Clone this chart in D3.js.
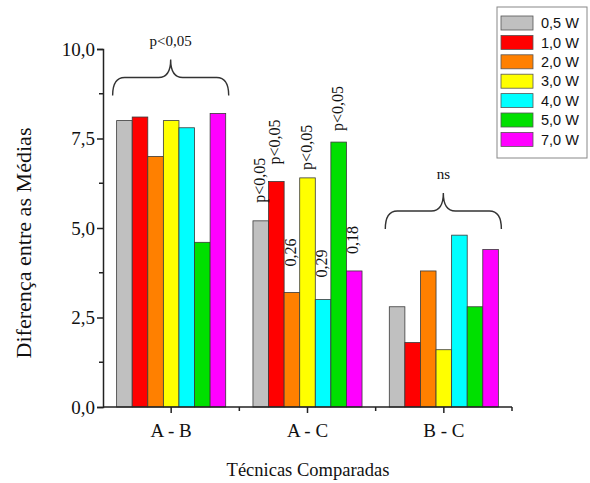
<!DOCTYPE html>
<html><head><meta charset="utf-8">
<script src="https://cdn.jsdelivr.net/npm/d3@7"></script>
<style>
body{margin:0;background:#fff}
text{font-family:"Liberation Serif","Times New Roman",serif;fill:#111}
</style></head>
<body><svg id="c" width="590" height="483"></svg>
<script>
const categories = ["A - B", "A - C", "B - C"];
const seriesNames = ["0,5 W", "1,0 W", "2,0 W", "3,0 W", "4,0 W", "5,0 W", "7,0 W"];
const seriesColors = ["#c0c0c0", "#ff0000", "#ff8000", "#ffff00", "#00ffff", "#00e000", "#ff00ff"];
const valuesAB = [8.0, 8.1, 7.0, 8.0, 7.8, 4.6, 8.2];
const valuesAC = [5.2, 6.3, 3.2, 6.4, 3.0, 7.4, 3.8];
const valuesBC = [2.8, 1.8, 3.8, 1.6, 4.8, 2.8, 4.4];
const yTickValues = [0, 2.5, 5, 7.5, 10];
const yTickLabels = ["0,0", "2,5", "5,0", "7,5", "10,0"];
const acLabels = ["p<0,05", "p<0,05", "0,26", "p<0,05", "0,29", "p<0,05", "0,18"];
const braceCategories = ["A - B", "B - C"];
const braceLevels = [8.7, 4.97];
const braceTexts = ["p<0,05", "ns"];

// layout offsets (pixels) of the rotated A - C labels above their bars
const acLabelGaps = [18, 17, 26, 8, 22, 11, 17];

const allValues = [valuesAB, valuesAC, valuesBC];
const svg = d3.select("#c");
const x = d3.scaleBand().domain(categories).range([103, 512]).paddingInner(0.2).paddingOuter(0.1);
const xs = d3.scaleBand().domain(seriesNames).range([0, x.bandwidth()]);
const y = d3.scaleLinear().domain([0, 10]).range([407, 49]);

// bars
categories.forEach((c, ci) => {
  const g = svg.append("g").attr("transform", `translate(${x(c)},0)`);
  g.selectAll("rect").data(allValues[ci]).join("rect")
    .attr("x", (d, i) => xs(seriesNames[i]))
    .attr("y", d => y(d))
    .attr("width", xs.bandwidth())
    .attr("height", d => y(0) - y(d))
    .attr("fill", (d, i) => seriesColors[i])
    .attr("stroke", "#3a3a3a").attr("stroke-width", 0.8);
});

// y axis
const yAxis = svg.append("g").attr("transform", "translate(103,0)")
  .call(d3.axisLeft(y).tickValues(yTickValues).tickFormat((d, i) => yTickLabels[i]).tickSize(6).tickPadding(2));
yAxis.select(".domain").attr("stroke", "#222").attr("stroke-width", 1.5);
yAxis.selectAll(".tick line").attr("stroke", "#222").attr("stroke-width", 1.5);
yAxis.selectAll(".tick text").attr("font-size", 19).attr("font-family", "Liberation Serif").attr("fill", "#111");
const minorY = d3.range(1.25, 10, 2.5);
svg.append("g").selectAll("line").data(minorY).join("line")
  .attr("x1", 99).attr("x2", 103).attr("y1", d => y(d)).attr("y2", d => y(d))
  .attr("stroke", "#222").attr("stroke-width", 1.5);

// x axis
svg.append("line").attr("x1", 103).attr("x2", 512).attr("y1", y(0)).attr("y2", y(0))
  .attr("stroke", "#222").attr("stroke-width", 1.5);
svg.append("g").selectAll("line").data(categories).join("line")
  .attr("x1", d => x(d) + x.bandwidth() / 2).attr("x2", d => x(d) + x.bandwidth() / 2)
  .attr("y1", y(0)).attr("y2", y(0) + 6).attr("stroke", "#222").attr("stroke-width", 1.5);
const minorX = [1, 2, 3].map(i => 103 + x.step() * x.paddingOuter() - x.step() * x.paddingInner() / 2 + i * x.step());
svg.append("g").selectAll("line").data(minorX).join("line")
  .attr("x1", d => d).attr("x2", d => d).attr("y1", y(0)).attr("y2", y(0) + 4)
  .attr("stroke", "#222").attr("stroke-width", 1.5);
svg.append("g").selectAll("text").data(categories).join("text")
  .attr("x", d => x(d) + x.bandwidth() / 2).attr("y", 437)
  .attr("text-anchor", "middle").attr("font-size", 19).text(d => d);

// axis titles
svg.append("text").attr("x", 308).attr("y", 476).attr("text-anchor", "middle")
  .attr("font-size", 18.5).text("Técnicas Comparadas");
svg.append("text").attr("transform", "translate(31,243) rotate(-90)").attr("text-anchor", "middle")
  .attr("font-size", 20).attr("textLength", 231).attr("lengthAdjust", "spacingAndGlyphs")
  .text("Diferença entre as Médias");

// rotated labels for A - C
svg.append("g").selectAll("text").data(valuesAC).join("text")
  .attr("transform", (d, i) => {
    const cx = x("A - C") + xs(seriesNames[i]) + xs.bandwidth() / 2 - 1.5;
    return `translate(${cx},${y(d) - acLabelGaps[i]}) rotate(-90)`;
  })
  .attr("dy", "0.35em").attr("font-size", 16).text((d, i) => acLabels[i]);

// braces
braceCategories.forEach((c, bi) => {
  const x1 = x(c) - 4, x2 = x(c) + x.bandwidth() + 3, cx = (x1 + x2) / 2;
  const yEnd = y(braceLevels[bi]), yMid = yEnd - 18, yTip = yEnd - 36, r = 12;
  const p = `M${x1},${yEnd} Q${x1},${yMid} ${x1 + r},${yMid} L${cx - r},${yMid} Q${cx},${yMid} ${cx},${yTip} Q${cx},${yMid} ${cx + r},${yMid} L${x2 - r},${yMid} Q${x2},${yMid} ${x2},${yEnd}`;
  svg.append("path").attr("d", p).attr("fill", "none").attr("stroke", "#333").attr("stroke-width", 1.4);
  svg.append("text").attr("x", cx).attr("y", yTip - 14).attr("text-anchor", "middle")
    .attr("font-size", 15).text(braceTexts[bi]);
});

// legend
const lg = svg.append("g");
lg.append("rect").attr("x", 497).attr("y", 7).attr("width", 90).attr("height", 151)
  .attr("fill", "#fff").attr("stroke", "#888").attr("stroke-width", 1);
seriesNames.forEach((s, i) => {
  const cy = 23 + i * 19.4;
  lg.append("rect").attr("x", 501).attr("y", cy - 7).attr("width", 32).attr("height", 14)
    .attr("fill", seriesColors[i]).attr("stroke", "#555").attr("stroke-width", 0.8);
  lg.append("text").attr("x", 541).attr("y", cy).attr("dy", "0.36em")
    .attr("font-size", 14.5)
    .style("font-family", "Liberation Sans, Arial, sans-serif").text(s);
});
</script></body></html>
